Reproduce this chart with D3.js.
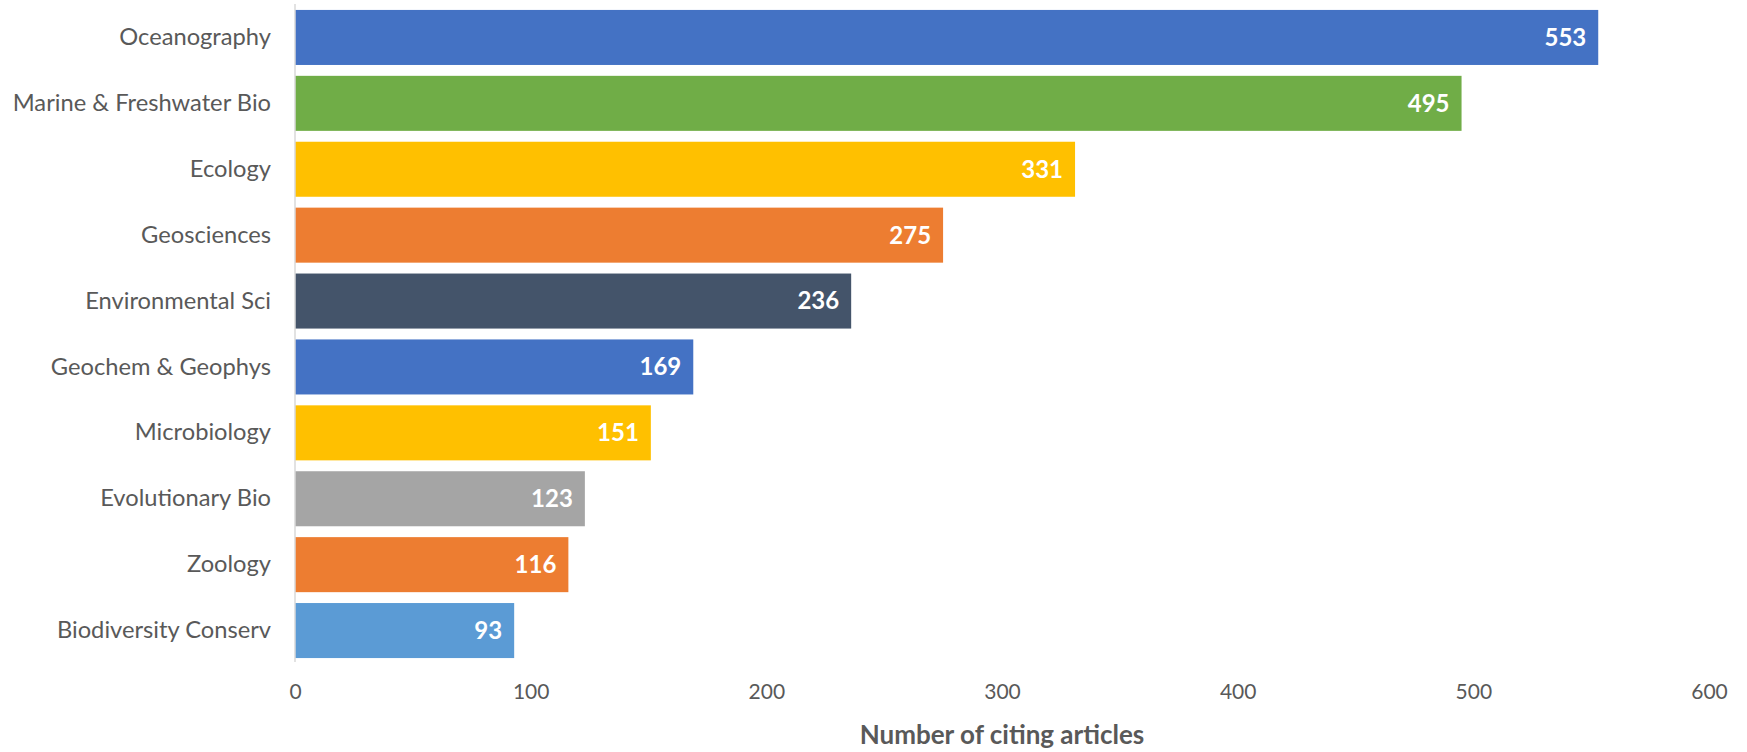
<!DOCTYPE html>
<html>
<head>
<meta charset="utf-8">
<script src="https://cdn.jsdelivr.net/npm/d3@7"></script>
<style>
  body { margin: 0; background: #fff; }
  text { font-family: Lato, "Open Sans", sans-serif; }
</style>
</head>
<body>
<script>
// data
var categories = ["Oceanography", "Marine & Freshwater Bio", "Ecology", "Geosciences",
  "Environmental Sci", "Geochem & Geophys", "Microbiology", "Evolutionary Bio",
  "Zoology", "Biodiversity Conserv"];
var counts = [553, 495, 331, 275, 236, 169, 151, 123, 116, 93];
var barColors = ["#4472C4", "#70AD47", "#FFC000", "#ED7D31", "#44546A",
  "#4472C4", "#FFC000", "#A5A5A5", "#ED7D31", "#5B9BD5"];
var xTicks = [0, 100, 200, 300, 400, 500, 600];
var xTitle = "Number of citing articles";

var width = 1747, height = 752;
var left = 295, right = 1709;

var svg = d3.select("body").append("svg")
  .attr("width", width)
  .attr("height", height);

var x = d3.scaleLinear().domain([0, 600]).range([left, right]);

var y = d3.scaleBand()
  .domain(categories)
  .range([4.5, 663.5])
  .paddingInner(0.165)
  .paddingOuter(0.0825);

// bars
svg.selectAll("rect.bar")
  .data(counts)
  .enter()
  .append("rect")
  .attr("class", "bar")
  .attr("x", x(0))
  .attr("y", function(d, i){ return y(categories[i]); })
  .attr("width", function(d){ return x(d) - x(0); })
  .attr("height", y.bandwidth())
  .attr("fill", function(d, i){ return barColors[i]; });

// value labels
svg.selectAll("text.val")
  .data(counts)
  .enter()
  .append("text")
  .attr("class", "val")
  .attr("x", function(d){ return x(d) - 12; })
  .attr("y", function(d, i){ return y(categories[i]) + y.bandwidth() / 2; })
  .attr("dy", "0.35em")
  .attr("text-anchor", "end")
  .attr("fill", "#fff")
  .attr("font-weight", "bold")
  .attr("font-size", 24)
  .text(function(d){ return d; });

// y axis (labels only + line)
var yAxis = d3.axisLeft(y).tickSize(0).tickPadding(24);
var gy = svg.append("g")
  .attr("transform", "translate(" + x(0) + ",0)")
  .call(yAxis);
gy.select(".domain").remove();
gy.selectAll("text")
  .attr("font-size", 23.7)
  .attr("fill", "#595959")
  .style("font-family", "Lato, sans-serif");

svg.append("line")
  .attr("x1", x(0)).attr("x2", x(0))
  .attr("y1", 4).attr("y2", 662)
  .attr("stroke", "#d9d9d9")
  .attr("stroke-width", 1.5);

// x axis, labels only
var xAxis = d3.axisBottom(x).tickValues(xTicks).tickSize(0).tickPadding(0);
var gx = svg.append("g")
  .attr("transform", "translate(0,684)")
  .call(xAxis);
gx.select(".domain").remove();
gx.selectAll("text")
  .attr("font-size", 21)
  .attr("fill", "#595959")
  .style("font-family", "Lato, sans-serif");

svg.append("text")
  .attr("x", (left + right) / 2)
  .attr("y", 744)
  .attr("text-anchor", "middle")
  .attr("font-size", 26)
  .attr("font-weight", "bold")
  .attr("fill", "#595959")
  .text(xTitle);
</script>
</body>
</html>
